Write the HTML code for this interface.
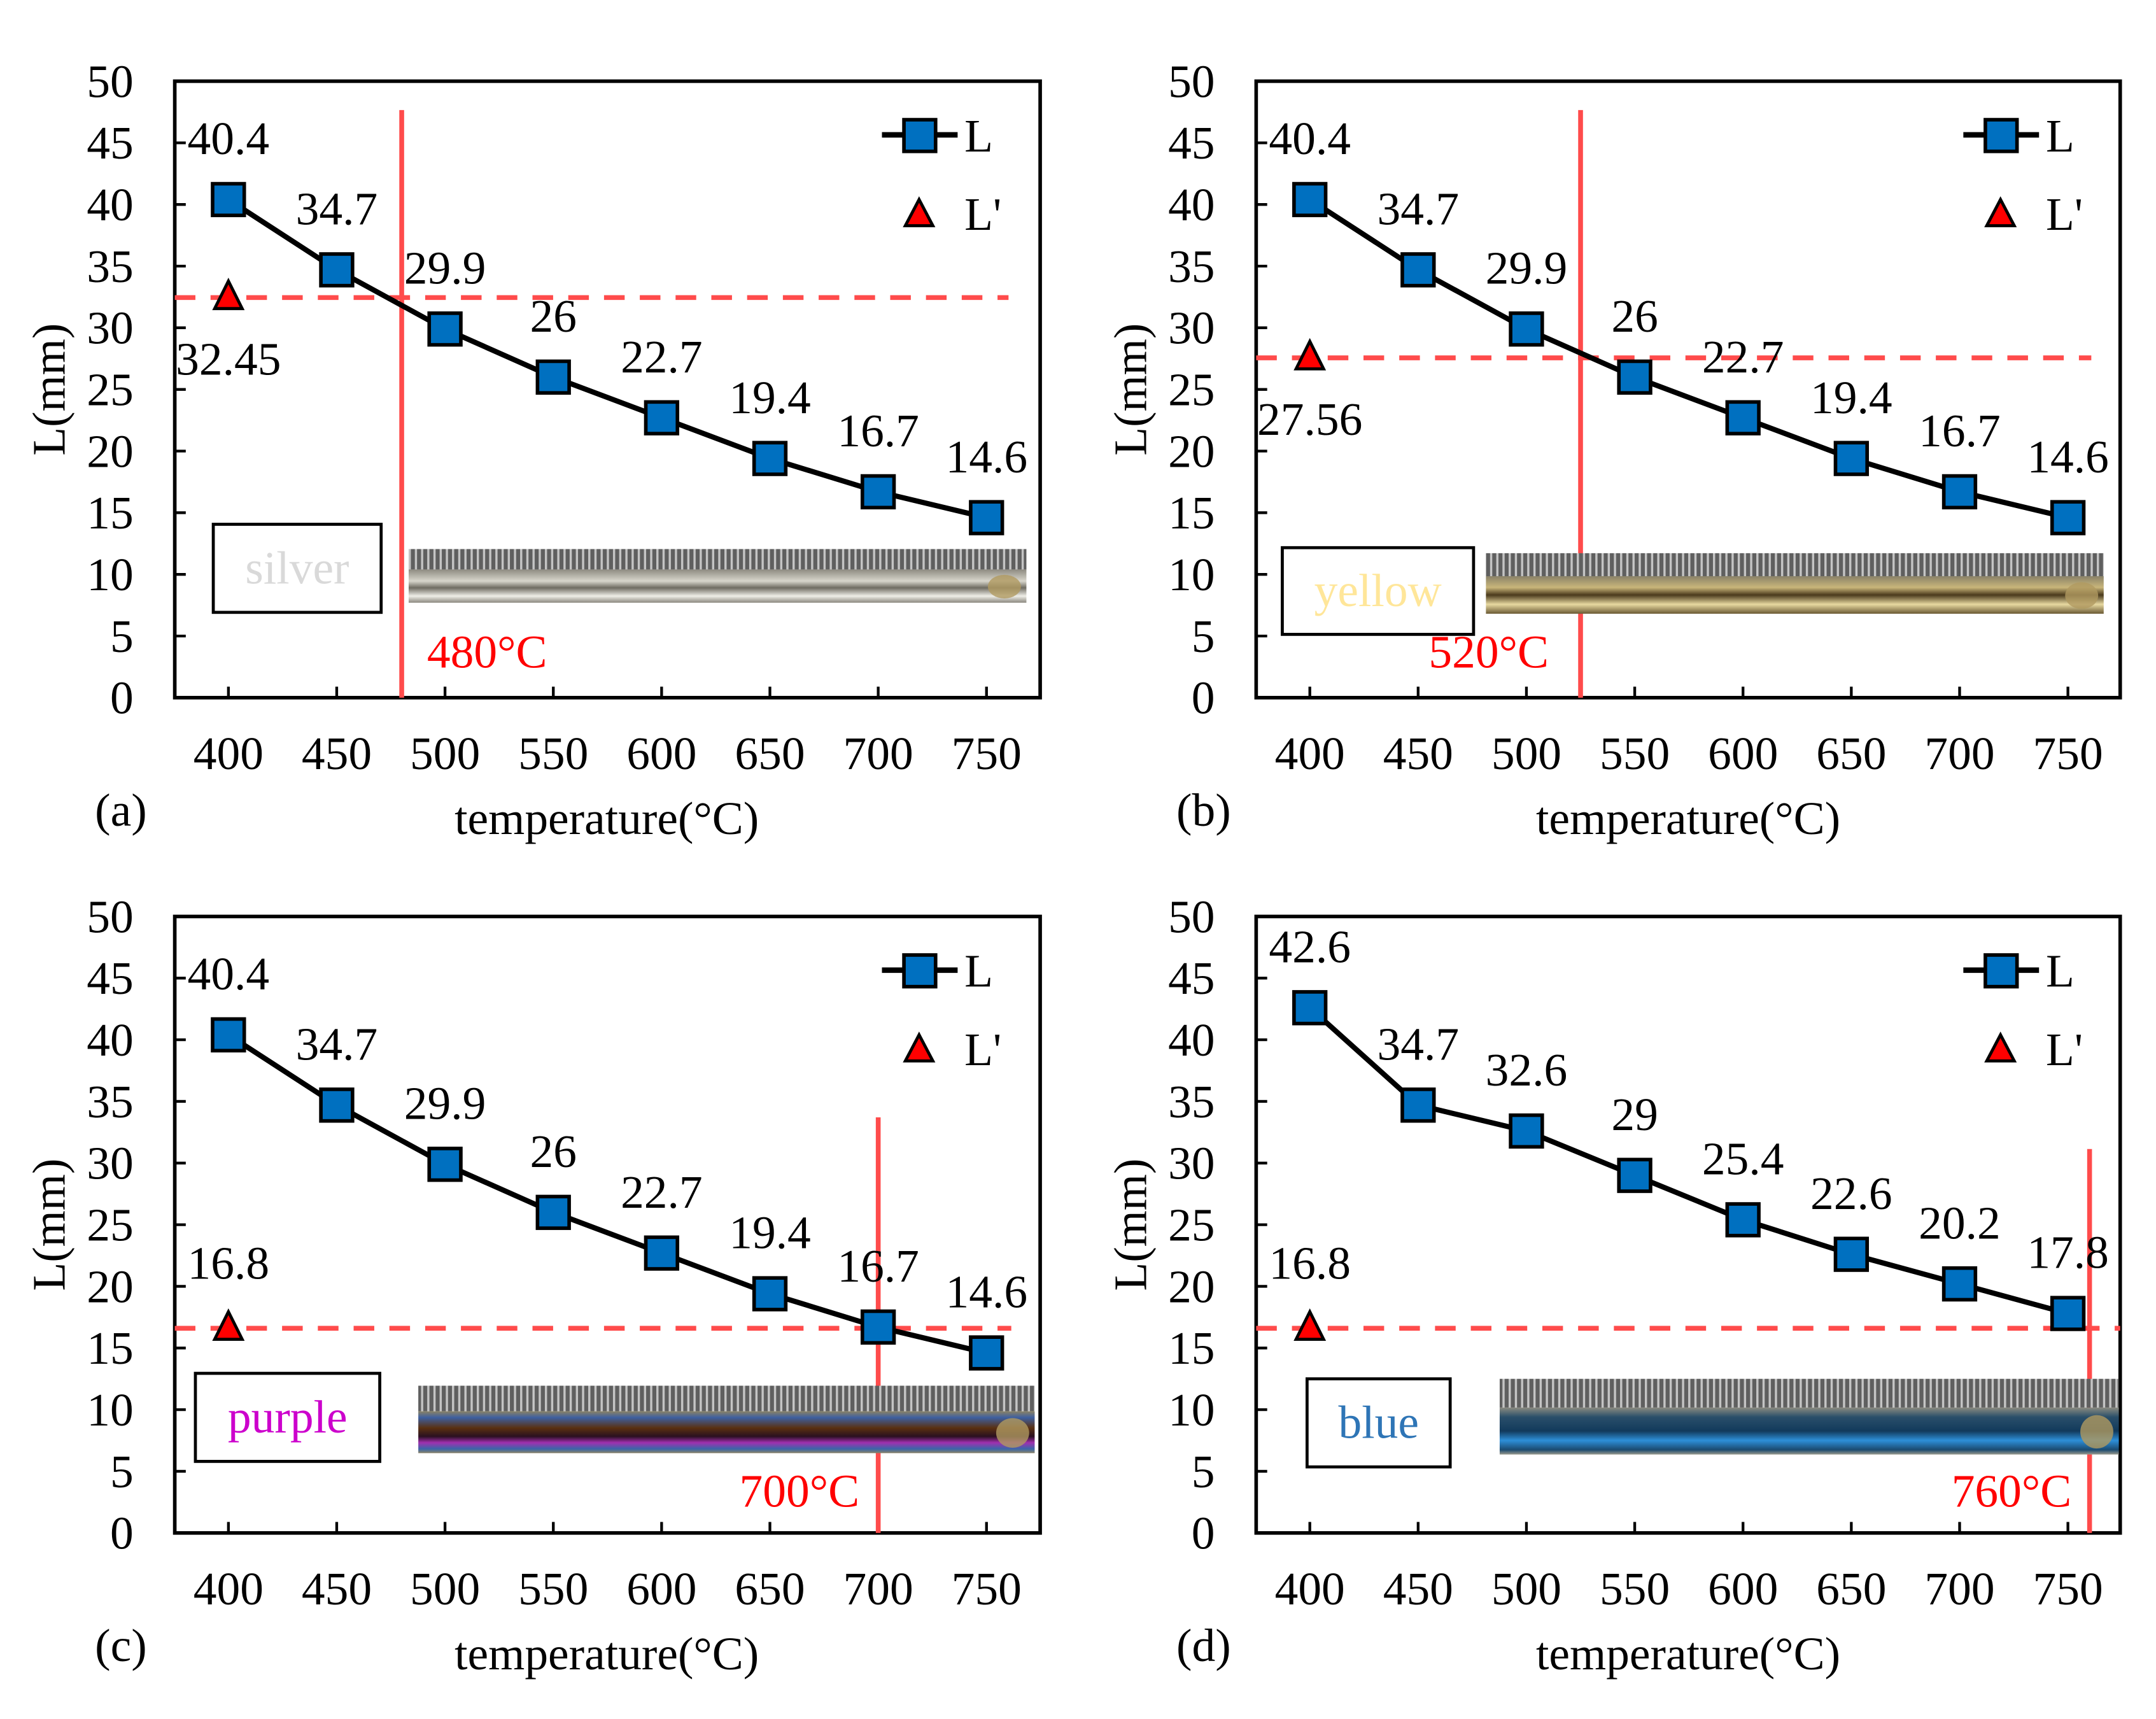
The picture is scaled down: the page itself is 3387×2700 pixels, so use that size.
<!DOCTYPE html>
<html><head><meta charset="utf-8"><style>
html,body{margin:0;padding:0;background:#fff;}
svg{display:block;font-family:"Liberation Serif","DejaVu Serif",serif;}
</style></head><body>
<svg id="fig" width="3387" height="2700" viewBox="0 0 1567 1249.2" xmlns="http://www.w3.org/2000/svg">
<defs>
<pattern id="ruler" width="4.5" height="20" patternUnits="userSpaceOnUse">
<rect width="4.5" height="20" fill="#5f5f5f"/><rect x="0" width="1.6" height="20" fill="#c4c4c4"/>
</pattern>
<linearGradient id="g-silver" x1="0" y1="0" x2="0" y2="1"><stop offset="0" stop-color="#8d8a80"/><stop offset="0.35" stop-color="#d8d6cc"/><stop offset="0.55" stop-color="#6f6c62"/><stop offset="0.8" stop-color="#efeee8"/><stop offset="1" stop-color="#8a877d"/></linearGradient>
<linearGradient id="g-yellow" x1="0" y1="0" x2="0" y2="1"><stop offset="0" stop-color="#8a8268"/><stop offset="0.3" stop-color="#c9b67a"/><stop offset="0.5" stop-color="#4a3a1c"/><stop offset="0.75" stop-color="#e8d9a0"/><stop offset="1" stop-color="#6b5a34"/></linearGradient>
<linearGradient id="g-purple" x1="0" y1="0" x2="0" y2="1"><stop offset="0" stop-color="#8a8266"/><stop offset="0.15" stop-color="#3d5fa0"/><stop offset="0.4" stop-color="#5a3010"/><stop offset="0.6" stop-color="#2a1020"/><stop offset="0.75" stop-color="#a030b0"/><stop offset="0.9" stop-color="#3a66a8"/><stop offset="1" stop-color="#8a8266"/></linearGradient>
<linearGradient id="g-blue" x1="0" y1="0" x2="0" y2="1"><stop offset="0" stop-color="#8a8a80"/><stop offset="0.2" stop-color="#2a4f6a"/><stop offset="0.5" stop-color="#123a5c"/><stop offset="0.7" stop-color="#2d8fd8"/><stop offset="0.9" stop-color="#1b4a70"/><stop offset="1" stop-color="#9a9a8c"/></linearGradient>
</defs>
</svg>
<script>
// shared data
const temps = [400,450,500,550,600,650,700,750];
const yTicks = [0,5,10,15,20,25,30,35,40,45,50];
const xTicks = [400,450,500,550,600,650,700,750];
const seriesA = [40.4,34.7,29.9,26,22.7,19.4,16.7,14.6];
const seriesB = [40.4,34.7,29.9,26,22.7,19.4,16.7,14.6];
const seriesC = [40.4,34.7,29.9,26,22.7,19.4,16.7,14.6];
const seriesD = [42.6,34.7,32.6,29,25.4,22.6,20.2,17.8];
const lPrimeValues = [32.45,27.56,16.6,16.6];
const lPrimeLabels = ["32.45","27.56","16.8","16.8"];
const criticalTemps = [480,525,700,760];
const criticalLabels = ["480°C","520°C","700°C","760°C"];
const colorNames = ["silver","yellow","purple","blue"];
const panelLetters = ["(a)","(b)","(c)","(d)"];

const NS="http://www.w3.org/2000/svg";
const svg=document.getElementById('fig');
function mk(tag,attrs,parent,text){const e=document.createElementNS(NS,tag);for(const k in attrs)e.setAttribute(k,attrs[k]);if(text!==undefined)e.textContent=text;(parent||svg).appendChild(e);return e;}

const FS=34;
const panels=[
 {ox:0,oy:0,series:seriesA,right:756,vTop:80,dashEnd:733,lp:'below',photo:[297,399,449,39],box:[155,381,122,64],txt:'#d9d9d9',grad:'g-silver',tl:[354,485]},
 {ox:786,oy:0,series:seriesB,right:755,vTop:80,dashEnd:734,lp:'below',photo:[294,402,449,44],box:[146,398,139,63],txt:'#ffe699',grad:'g-yellow',tl:[296,485]},
 {ox:0,oy:607,series:seriesC,right:756,vTop:205,dashEnd:735,lp:'above',photo:[304,400,448,49],box:[142,391,134,64],txt:'#cc00cc',grad:'g-purple',tl:[581,488]},
 {ox:786,oy:607,series:seriesD,right:755,vTop:228,dashEnd:755,lp:'above',photo:[304,395,450,55],box:[164,395,104,64],txt:'#2e75b6',grad:'g-blue',tl:[676,488]}
];
const L=127,T=59,B=507;
panels.forEach((p,i)=>{
 const g=mk('g',{transform:`translate(${p.ox},${p.oy})`});
 
 
 const R=p.right;
 const xs=v=>166+(v-400)*(717-166)/350;
 const ys=v=>B-v*(B-T)/50;
 const fr=mk('rect',{x:L,y:T,width:R-L,height:B-T,fill:'#fff',stroke:'#000','stroke-width':2.6},g);
 
 
 yTicks.forEach(v=>{
  mk('line',{x1:L,x2:L+8,y1:ys(v),y2:ys(v),stroke:'#000','stroke-width':2},g);
  const t=mk('text',{x:97,y:ys(v)+11.5,'font-size':FS,'text-anchor':'end'},g,String(v));
  
  
 });
 xTicks.forEach(v=>{
  mk('line',{x1:xs(v),x2:xs(v),y1:B,y2:B-8,stroke:'#000','stroke-width':2},g);
  const t=mk('text',{x:xs(v),y:559,'font-size':FS,'text-anchor':'middle'},g,String(v));
  
  
 });
 const yt=mk('text',{x:0,y:0,'font-size':FS,'text-anchor':'middle',transform:`translate(47,283) rotate(-90)`},g,'L(mm)');
 
 
 const xt=mk('text',{x:441,y:606,'font-size':FS,'text-anchor':'middle'},g,'temperature(°C)');
 
 
 const pl=mk('text',{x:69,y:600,'font-size':FS},g,panelLetters[i]);
 
 
 const vx=xs(criticalTemps[i]);
 const vl=mk('line',{x1:vx,x2:vx,y1:p.vTop,y2:B,stroke:'#ff4b4b','stroke-width':3.5},g);
 
 
 const dy=ys(lPrimeValues[i]);
 const dl=mk('line',{x1:L,x2:p.dashEnd,y1:dy,y2:dy,stroke:'#ff4b4b','stroke-width':3.5,'stroke-dasharray':'15 11'},g);
 
 
 const [px,py,pw,ph]=p.photo;
 const pg=mk('g',{},g);
 
 
 mk('rect',{x:px,y:py,width:pw,height:ph*0.38,fill:'url(#ruler)'},pg);
 mk('rect',{x:px,y:py+ph*0.38,width:pw,height:ph*0.62,fill:'url(#'+p.grad+')'},pg);
 mk('ellipse',{cx:px+pw-16,cy:py+ph*0.7,rx:12,ry:ph*0.22,fill:'#b09a60',opacity:0.8},pg);
 const [bx,by,bw,bh]=p.box;
 const cb=mk('rect',{x:bx,y:by,width:bw,height:bh,fill:'#fff',stroke:'#000','stroke-width':2.2},g);
 
 
 const ct=mk('text',{x:bx+bw/2,y:by+bh/2+11,'font-size':FS,'text-anchor':'middle',fill:p.txt},g,colorNames[i]);
 
 
 const tl=mk('text',{x:p.tl[0],y:p.tl[1],'font-size':FS,'text-anchor':'middle',fill:'#ff0000'},g,criticalLabels[i]);
 
 
 const pts=p.series.map((v,k)=>xs(temps[k])+','+ys(v)).join(' ');
 const sl=mk('polyline',{points:pts,fill:'none',stroke:'#000','stroke-width':3.8},g);
 
 
 p.series.forEach((v,k)=>{
  const cx=xs(temps[k]),cy=ys(v);
  const m=mk('rect',{x:cx-11.5,y:cy-11.5,width:23,height:23,fill:'#0070c0',stroke:'#000','stroke-width':2.6},g);
  
  
  const lb=mk('text',{x:cx,y:cy-33,'font-size':FS,'text-anchor':'middle'},g,String(v));
  
  
 });
 const tx=xs(400),ty=ys(lPrimeValues[i]);
 const tr=mk('polygon',{points:`${tx},${ty-12} ${tx-10},${ty+8} ${tx+10},${ty+8}`,fill:'#ff0000',stroke:'#000','stroke-width':2.2},g);
 
 
 const tlb=mk('text',{x:tx,y:p.lp==='below'?ty+56:ty-36,'font-size':FS,'text-anchor':'middle'},g,lPrimeLabels[i]);
 
 
 const lg=mk('g',{},g);
 
 
 mk('line',{x1:641,x2:696,y1:98,y2:98,stroke:'#000','stroke-width':4},lg);
 mk('rect',{x:657,y:87,width:23,height:23,fill:'#0070c0',stroke:'#000','stroke-width':2.6},lg);
 mk('text',{x:701,y:110,'font-size':FS},lg,'L');
 mk('polygon',{points:'668,145 658,164 678,164',fill:'#ff0000',stroke:'#000','stroke-width':2.2},lg);
 mk('text',{x:701,y:167,'font-size':FS},lg,"L'");
});
</script>
</body></html>
